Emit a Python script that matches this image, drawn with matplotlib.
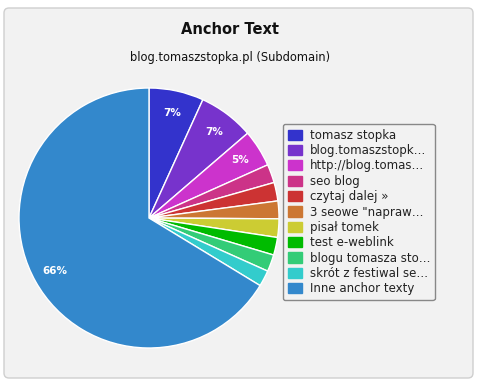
import matplotlib
matplotlib.use('Agg')
import matplotlib.pyplot as plt
from matplotlib.patches import FancyBboxPatch, Patch

# data
labels = ['tomasz stopka', 'blog.tomaszstopk\u2026', 'http://blog.tomas\u2026', 'seo blog',
          'czytaj dalej \u00bb', '3 seowe "napraw\u2026', 'pisa\u0142 tomek', 'test e-weblink',
          'blogu tomasza sto\u2026', 'skr\u00f3t z festiwal se\u2026', 'Inne anchor texty']
values = [6.8, 6.9, 4.6, 2.3, 2.3, 2.2, 2.3, 2.2, 2.1, 2.0, 66.3]
colors = ['#3333cc', '#7733cc', '#cc33cc', '#cc3388', '#cc3333', '#cc7733',
          '#cccc33', '#00bb00', '#33cc77', '#33cccc', '#3388cc']

W, H = 478, 385
fig = plt.figure(figsize=(W / 100, H / 100), dpi=100)
fig.patch.set_facecolor('white')

# background panel, drawn in pixel units
bg = fig.add_axes([0, 0, 1, 1])
bg.set_xlim(0, W)
bg.set_ylim(H, 0)
bg.axis('off')
bg.add_patch(FancyBboxPatch((4, 8), 469, 370, boxstyle='round,pad=0,rounding_size=5',
                            facecolor='#f2f2f2', edgecolor='#cfcfcf', linewidth=1))
bg.text(230, 29, 'Anchor Text', ha='center', va='center', fontsize=10.5,
        fontweight='bold', color='#111111')
bg.text(230, 57, 'blog.tomaszstopka.pl (Subdomain)', ha='center', va='center',
        fontsize=8.3, color='#111111')

# pie
cx, cy, r = 149, 218, 130
ax = fig.add_axes([(cx - r) / W, (H - cy - r) / H, 2 * r / W, 2 * r / H])
wedges, texts, autotexts = ax.pie(
    values, colors=colors, startangle=90, counterclock=False,
    autopct=lambda p: f'{p:.0f}%' if p >= 4 else '', pctdistance=0.83,
    wedgeprops=dict(edgecolor='white', linewidth=1),
    textprops=dict(color='white', fontsize=7.5, fontweight='bold'))
ax.set_xlim(-1, 1)
ax.set_ylim(-1, 1)
ax.set_aspect('equal')
ax.axis('off')

# legend
handles = [Patch(facecolor=c, edgecolor=c) for c in colors]
leg = fig.legend(handles, labels, loc='upper left',
                 bbox_to_anchor=(283 / W, 1 - 124 / H), fontsize=8.5,
                 frameon=True, fancybox=True, facecolor='#f2f2f2',
                 edgecolor='#888888', framealpha=1,
                 handlelength=1.25, handleheight=0.95, handletextpad=0.6,
                 labelspacing=0.2, borderpad=0.4, borderaxespad=0)
leg.get_frame().set_linewidth(1)
for t in leg.get_texts():
    t.set_color('#222222')

fig.savefig('out.png', dpi=100)
